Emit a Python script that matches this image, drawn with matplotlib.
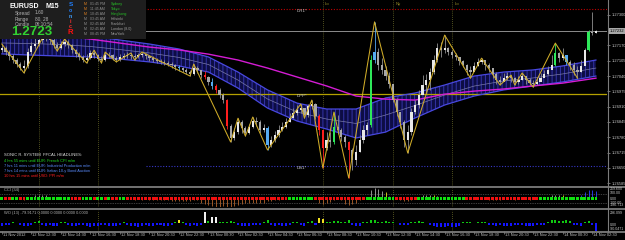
import numpy as np
import matplotlib
matplotlib.use("Agg")
import matplotlib.pyplot as plt
from matplotlib.patches import Rectangle
from matplotlib.lines import Line2D

plt.rcParams['font.family'] = ['Liberation Sans', 'DejaVu Sans']
plt.rcParams['hatch.linewidth'] = 0.7

W, H = 625, 240

# EURUSD M15, open of each bar = close of the previous bar
first_open = 1.27150
close = [1.27159, 1.27142, 1.27125, 1.27108, 1.27091, 1.27074, 1.27083, 1.27142, 1.27167, 1.27176,
         1.27193, 1.27201, 1.27210, 1.27193, 1.27172, 1.27159, 1.27176, 1.27184, 1.27172, 1.27150,
         1.27134, 1.27121, 1.27108, 1.27116, 1.27138, 1.27129, 1.27112, 1.27108, 1.27129, 1.27129,
         1.27116, 1.27108, 1.27121, 1.27125, 1.27129, 1.27125, 1.27121, 1.27129, 1.27134, 1.27125,
         1.27116, 1.27108, 1.27104, 1.27100, 1.27095, 1.27091, 1.27087, 1.27078, 1.27074, 1.27066,
         1.27057, 1.27048, 1.27074, 1.27066, 1.27044, 1.27036, 1.27015, 1.26998, 1.26980, 1.26959,
         1.26938, 1.26828, 1.26776, 1.26802, 1.26844, 1.26819, 1.26798, 1.26823, 1.26849, 1.26844,
         1.26810, 1.26819, 1.26747, 1.26768, 1.26789, 1.26810, 1.26823, 1.26844, 1.26861, 1.26883,
         1.26895, 1.26904, 1.26874, 1.26912, 1.26921, 1.26870, 1.26810, 1.26734, 1.26768, 1.26760,
         1.26823, 1.26810, 1.26781, 1.26760, 1.26726, 1.26683, 1.26717, 1.26768, 1.26810, 1.26832,
         1.27108, 1.27142, 1.27087, 1.27066, 1.27040, 1.27006, 1.26938, 1.26887, 1.26844, 1.26768,
         1.26802, 1.26887, 1.26917, 1.26959, 1.27002, 1.27023, 1.27057, 1.27108, 1.27159, 1.27150,
         1.27159, 1.27142, 1.27129, 1.27121, 1.27104, 1.27087, 1.27066, 1.27057, 1.27083, 1.27100,
         1.27108, 1.27087, 1.27074, 1.27048, 1.27023, 1.27015, 1.27031, 1.27040, 1.27031, 1.27015,
         1.27023, 1.27040, 1.27023, 1.27010, 1.27006, 1.27015, 1.27031, 1.27048, 1.27066, 1.27087,
         1.27138, 1.27116, 1.27129, 1.27100, 1.27087, 1.27066, 1.27057, 1.27083, 1.27150, 1.27227,
         1.27223, 1.27231]
high = [1.27176, 1.27167, 1.27150, 1.27134, 1.27116, 1.27100, 1.27108, 1.27159, 1.27184, 1.27201,
        1.27214, 1.27223, 1.27231, 1.27218, 1.27201, 1.27184, 1.27189, 1.27197, 1.27193, 1.27176,
        1.27155, 1.27142, 1.27129, 1.27134, 1.27150, 1.27150, 1.27134, 1.27125, 1.27142, 1.27142,
        1.27134, 1.27125, 1.27134, 1.27138, 1.27142, 1.27138, 1.27134, 1.27138, 1.27142, 1.27138,
        1.27129, 1.27125, 1.27116, 1.27112, 1.27108, 1.27104, 1.27100, 1.27091, 1.27087, 1.27078,
        1.27074, 1.27066, 1.27091, 1.27083, 1.27066, 1.27061, 1.27040, 1.27031, 1.27006, 1.26989,
        1.26968, 1.26942, 1.26836, 1.26819, 1.26861, 1.26853, 1.26828, 1.26836, 1.26866, 1.26866,
        1.26853, 1.26836, 1.26828, 1.26785, 1.26806, 1.26832, 1.26844, 1.26861, 1.26883, 1.26904,
        1.26917, 1.26921, 1.26904, 1.26921, 1.26938, 1.26925, 1.26878, 1.26810, 1.26802, 1.26802,
        1.26887, 1.26874, 1.26819, 1.26789, 1.26764, 1.26734, 1.26747, 1.26789, 1.26832, 1.26844,
        1.27129, 1.27270, 1.27159, 1.27116, 1.27083, 1.27057, 1.26998, 1.26946, 1.26874, 1.26853,
        1.26832, 1.26904, 1.26938, 1.26980, 1.27044, 1.27048, 1.27074, 1.27129, 1.27180, 1.27184,
        1.27214, 1.27163, 1.27150, 1.27138, 1.27116, 1.27108, 1.27091, 1.27083, 1.27100, 1.27116,
        1.27116, 1.27104, 1.27095, 1.27074, 1.27057, 1.27040, 1.27053, 1.27057, 1.27044, 1.27036,
        1.27040, 1.27053, 1.27040, 1.27031, 1.27023, 1.27031, 1.27053, 1.27066, 1.27083, 1.27129,
        1.27180, 1.27142, 1.27159, 1.27125, 1.27108, 1.27100, 1.27083, 1.27108, 1.27159, 1.27236,
        1.27312, 1.27236]
low = [1.27142, 1.27129, 1.27108, 1.27095, 1.27078, 1.27066, 1.27053, 1.27074, 1.27134, 1.27159,
       1.27167, 1.27180, 1.27189, 1.27176, 1.27159, 1.27146, 1.27155, 1.27167, 1.27159, 1.27138,
       1.27121, 1.27108, 1.27100, 1.27095, 1.27112, 1.27116, 1.27104, 1.27095, 1.27104, 1.27116,
       1.27108, 1.27100, 1.27104, 1.27112, 1.27116, 1.27112, 1.27108, 1.27116, 1.27121, 1.27112,
       1.27104, 1.27100, 1.27095, 1.27091, 1.27087, 1.27083, 1.27074, 1.27066, 1.27061, 1.27057,
       1.27048, 1.27040, 1.27044, 1.27053, 1.27031, 1.27027, 1.27002, 1.26985, 1.26968, 1.26946,
       1.26925, 1.26815, 1.26760, 1.26768, 1.26793, 1.26798, 1.26785, 1.26793, 1.26819, 1.26828,
       1.26798, 1.26802, 1.26726, 1.26738, 1.26760, 1.26781, 1.26806, 1.26819, 1.26844, 1.26861,
       1.26874, 1.26883, 1.26861, 1.26866, 1.26900, 1.26857, 1.26789, 1.26649, 1.26726, 1.26738,
       1.26751, 1.26793, 1.26764, 1.26738, 1.26607, 1.26640, 1.26662, 1.26717, 1.26755, 1.26789,
       1.26823, 1.27095, 1.27066, 1.27048, 1.27023, 1.26989, 1.26929, 1.26870, 1.26819, 1.26738,
       1.26713, 1.26789, 1.26878, 1.26904, 1.26963, 1.26972, 1.26980, 1.27048, 1.27100, 1.27121,
       1.27138, 1.27129, 1.27116, 1.27108, 1.27087, 1.27078, 1.27044, 1.27031, 1.27066, 1.27083,
       1.27091, 1.27066, 1.27057, 1.27031, 1.27006, 1.27002, 1.27023, 1.27023, 1.27015, 1.27002,
       1.27006, 1.27023, 1.27006, 1.27002, 1.26993, 1.27002, 1.27019, 1.27036, 1.27044, 1.27074,
       1.27083, 1.27100, 1.27108, 1.27087, 1.27066, 1.27044, 1.27031, 1.27057, 1.27100, 1.27146,
       1.27214, 1.27223]
blue_bars = [48, 57, 72, 101, 153]
red_bars = [55, 58, 61, 86, 87, 94]
green_bars = [90, 100, 150, 159]

# zigzag turning points (bar, h = high / l = low)
zz_bars = [0, 6, 12, 15, 17, 23, 25, 27, 28, 31, 35, 36, 38, 51, 52, 62, 64, 66, 68, 72, 81, 82, 84,
           87, 90, 94, 101, 110, 120, 127, 130, 135, 138, 139, 141, 144, 150, 156]
zz_kind = "hlhlhlhlhlhlhlhlhlhlhlhlhlhlhlhlhlhlhl"

# sonic R dragon band and EMA 89, read every 8 bars
band_bars = [0, 8, 16, 24, 32, 40, 48, 56, 64, 72, 80, 88, 96, 104, 112, 120, 128, 136, 144, 152, 161]
band_hi = [1.27227, 1.27227, 1.27223, 1.27210, 1.27193, 1.27176, 1.27155, 1.27121, 1.27057, 1.26981,
           1.26925, 1.26900, 1.26900, 1.26947, 1.26968, 1.27002, 1.27040, 1.27057, 1.27066, 1.27083, 1.27108]
band_lo = [1.27134, 1.27129, 1.27125, 1.27121, 1.27112, 1.27100, 1.27083, 1.27057, 1.26989, 1.26904,
           1.26849, 1.26815, 1.26777, 1.26802, 1.26862, 1.26917, 1.26955, 1.26981, 1.26998, 1.27015, 1.27040]
ema89 = [1.27244, 1.27227, 1.27210, 1.27197, 1.27180, 1.27163, 1.27151, 1.27133, 1.27108, 1.27074,
         1.27036, 1.26998, 1.26955, 1.26942, 1.26938, 1.26963, 1.26976, 1.26985, 1.26998, 1.27010, 1.27031]

bid = 1.27232
dr1, dpp, ds1 = 1.27325, 1.26963, 1.26658
price_ticks = [1.26585, 1.26650, 1.26715, 1.26780, 1.26845, 1.26910, 1.26975, 1.27040, 1.27105, 1.27170, 1.27300]

# session lines; the first two labels sit under the info box
session_bars = [10, 26, 87, 106, 122]
session_names = ["", "", "Lo", "Ny", "Lo"]

cci = [15, -10, -20, 10, 20, -15, -25, 10, 30, 70, 85, 90, 80, 40, 25, 10, 30, 35, 15, -10, -20,
       -15, 10, 20, 25, -10, 15, 20, -5, 10, -15, -20, 5, 15, -10, -20, -25, -15, -30, -20, -25,
       -30, -25, -35, -30, -40, -50, -60, -55, -60, -50, -45, -30, -40,
       -100, -130, -150, -170, -185, -180, -175, -185, -180, -160, -140,
       -110, -100, -95, -90, -95, -100, -90, -60, -50, -40, -30, -20, -10, 10,
       20, 30, 25, 15, 30, 20, -10, -90, -110, -100, -80, -30, -20, -40, -120, -140, -130, -100,
       -40, -10, 20, 200, 235, 220, 180, 150, 60, 40, -20, -40, -50, -45, -30, -10, 40, 70, 80, 75,
       85, 50, 40, 35, 30, 25, 20, 15, 10, -10, -20, -15, -5, -10, -20, -25, -30, -35, -30, -20,
       -15, -20, -25, -15, -10, -20, -25, -20, -10, 10, 20, 30, 70, 80, 85, 75, 40, 30, 20, 15,
       90, 140, 185, 190, 170]
cci_yellow = [104, 117, 152]
cci_blue = [105, 106, 157, 158, 159, 160, 161]

wo = [-60, -50, -40, 30, 20, -50, -60, -70, -40, 40, 50, -40, -60, -50, -70, -60, 30, 40, -50, -60,
      -70, -50, -40, -60, -80, -70, -60, -50, -40, -60, -70, -60, -50, 30, -40, -60, -70, -80, -60, -50,
      -60, -70, -50, -40, -60, -70, -50, 40, 100, 30, -40, -60, -50, -70, -40, 290, 60, 170, 160,
      40, 30, 40, 50, 30, -40, -60, -70, -60, -50, -40, -30, 40, 80, -40, -60, -50, -70, -60, -40,
      30, 40, -50, -60, 30, 70, -40, 140, 120, 40, 30, 50, 60, 40, 30, 80, -50, -60, -70, 30, 40,
      100, 90, 40, 30, 50, 40, 30, 20, -30, -40, -30, 30, 40, 50, 30, 20, -50, -60, -80, -90, -80,
      -70, -80, -90, -70, 30, 40, 30, 20, 30, 40, 30, -40, -50, -60, -50, -60, -70, -60, -50, -40,
      -50, -60, -70, -60, -50, -40, -30, 40, 80, 90, 60, 70, 80, 50, -40, -50, -60, 30, 60, -40, -180]
wo_white = [55, 57, 58]
wo_yellow = [48, 86, 87]

label_bars = list(range(0, 161, 8))
time_labels = ["11 Nov 2012", "12 Nov 12:30", "12 Nov 14:30", "12 Nov 16:30", "12 Nov 18:30",
               "12 Nov 20:30", "12 Nov 22:30", "13 Nov 00:30", "13 Nov 02:30", "13 Nov 04:30",
               "13 Nov 06:30", "13 Nov 08:30", "13 Nov 10:30", "13 Nov 12:30", "13 Nov 14:30",
               "13 Nov 16:30", "13 Nov 18:30", "13 Nov 20:30", "13 Nov 22:30", "14 Nov 00:30",
               "14 Nov 02:30"]

sessions = [("01:45 PM", "Sydney"), ("11:45 AM", "Tokyo"), ("10:45 AM", "Hongkong"),
            ("03:45 AM", "Helsinki"), ("02:45 AM", "Frankfurt"), ("02:45 AM", "London (8.0)"),
            ("08:45 PM", "NewYork")]
sessions_open = 3
headlines = [("4 hrs 55 mins until EUR: French CPI m/m", "#20e020"),
             ("7 hrs 11 mins until EUR: Industrial Production m/m", "#5a8cff"),
             ("7 hrs 14 mins until EUR: Italian 10-y Bond Auction", "#5a8cff"),
             ("10 hrs 15 mins until USD: PPI m/m", "#ff2020")]


def fx(x):
    return x / W


def fy(y):
    return 1 - y / H


def ft(x, y, s, **kw):
    kw.setdefault('va', 'center')
    kw.setdefault('ha', 'left')
    fig.text(fx(x), fy(y), s, zorder=12, **kw)


fig = plt.figure(figsize=(W / 100, H / 100), dpi=100, facecolor='black')
ax = fig.add_axes([0, fy(186), fx(607), 186 / H])
ax_cci = fig.add_axes([0, fy(207), fx(607), 19 / H])
ax_wo = fig.add_axes([0, fy(231), fx(607), 21 / H])
for a in (ax, ax_cci, ax_wo):
    a.set_facecolor('black')
    a.set_xlim(-0.5, 164)
    for s in a.spines.values():
        s.set_visible(False)
    a.tick_params(bottom=False, labelbottom=False, left=False, labelleft=False)
    for b in session_bars:
        a.axvline(b, color='#6a6a28', ls=(0, (1, 1.5)), lw=0.6, zorder=0)

n = len(close)
x = np.arange(n)
c = np.array(close)
o = np.array([first_open] + close[:-1])
hi = np.array(high)
lo = np.array(low)

# main chart
ax.set_ylim(1.26573, 1.27363)
ax.fill_between(band_bars, band_lo, band_hi, facecolor='#0d0d45', edgecolor='#3434a8',
                hatch='||||', linewidth=0, zorder=1)
ax.plot(band_bars, band_hi, color='#4848e0', lw=0.9, zorder=1.5)
ax.plot(band_bars, band_lo, color='#4848e0', lw=0.9, zorder=1.5)
ax.plot(band_bars, (np.array(band_hi) + np.array(band_lo)) / 2, color='#7878a8', lw=0.5, zorder=1.5)
ax.plot(band_bars, ema89, color='#d41cd4', lw=1.0, zorder=2)

ax.axhline(dr1, color='#c00000', ls=(0, (1, 1.5)), lw=0.8, zorder=1)
ax.axhline(bid, color='#8c8c8c', lw=0.7, zorder=1)
ax.axhline(dpp, color='#b4a000', lw=0.9, zorder=1)
ax.hlines(ds1, 39, 164, color='#3838c8', ls=(0, (1, 1.5)), lw=0.8, zorder=1)
for lvl, name in [(dr1, "DR1*"), (dpp, "DPP*"), (ds1, "DS1*")]:
    ax.text(80, lvl, name, color='#c8c8c8', fontsize=3.2, va='top', ha='left', zorder=5)

for b, name in zip(session_bars, session_names):
    if name:
        ax.text(b + 0.6, 1 - 4 / 186, name, transform=ax.get_xaxis_transform(),
                color='#a09428', fontsize=3.0, va='center', ha='left')

body_col = np.where(c >= o, '#e8e8e8', '#a8a8a8').astype(object)
wick_col = np.array(['#909090'] * n, dtype=object)
for idx_list, col in [(blue_bars, '#56aaf0'), (red_bars, '#ff1e1e'), (green_bars, '#2ee85a')]:
    for i in idx_list:
        body_col[i] = col
        wick_col[i] = col
ax.vlines(x, lo, hi, colors=list(wick_col), lw=0.6, zorder=3)
body = c - o
body = np.where(np.abs(body) < 0.00002, 0.00002, body)
ax.bar(x, body, bottom=o, width=0.6, color=list(body_col), linewidth=0, zorder=3.2)

zz_price = [hi[b] if k == 'h' else lo[b] for b, k in zip(zz_bars, zz_kind)]
ax.plot(zz_bars, zz_price, color='#d0ac28', lw=0.75, zorder=4)

ax.yaxis.tick_right()
ax.set_yticks(price_ticks)
ax.set_yticklabels(['%.5f' % t for t in price_ticks])
ax.tick_params(axis='y', right=True, labelright=True, length=2, width=0.5, color='#a0a0a0',
               labelcolor='#c8c8c8', labelsize=2.9, pad=1.2)
ax.text(1.004, bid, '%.5f' % bid, transform=ax.get_yaxis_transform(), ha='left', va='center',
        fontsize=2.9, color='black', clip_on=False,
        bbox=dict(boxstyle='square,pad=0.25', fc='#a8a8a8', ec='none'))

# CCI panel
ax_cci.set_ylim(-187, 236)
cci_col = np.where(np.array(cci) >= 0, '#a8a8a8', '#b4642a').astype(object)
for i in cci_yellow:
    cci_col[i] = '#e8e020'
for i in cci_blue:
    cci_col[i] = '#3040ff'
ax_cci.vlines(x, 0, cci, colors=list(cci_col), lw=0.6, zorder=2)
for lvl in (100, -100):
    ax_cci.axhline(lvl, color='#7a7a7a', ls=(0, (1, 1.5)), lw=0.5, zorder=1)
dot_col = np.where(np.array(cci) >= 0, '#10e010', '#f01010')
ax_cci.scatter(x, np.zeros(n), marker='s', s=4.2, c=list(dot_col), linewidths=0, zorder=3)
ax_cci.text(0.006, 0.88, 'CCI (34)', transform=ax_cci.transAxes, color='#b0b0b0',
            fontsize=2.9, va='center', ha='left')

# WO panel
ax_wo.set_ylim(-188, 338)
wo_col = np.where(np.array(wo) >= 0, '#10c810', '#1414ff').astype(object)
for i in wo_white:
    wo_col[i] = '#f0f0f0'
for i in wo_yellow:
    wo_col[i] = '#f0e020'
ax_wo.bar(x, wo, width=0.55, color=list(wo_col), linewidth=0)
ax_wo.text(0.006, 0.86, 'WO (13) -79.9171 0.0000 0.0000 0.0000 0.0000', transform=ax_wo.transAxes,
           color='#b0b0b0', fontsize=2.9, va='center', ha='left')
ax_wo.set_xticks(label_bars)
ax_wo.tick_params(axis='x', bottom=True, length=2, width=0.5, color='#909090', labelbottom=False)
for b, lab in zip(label_bars, time_labels):
    ax_wo.text(b + 0.3, -0.21, lab, transform=ax_wo.get_xaxis_transform(), color='#c0c0c0',
               fontsize=2.9, ha='left', va='center', clip_on=False)

# panel separators and price scale border
for yy in (186.8, 208.5, 231.6):
    fig.add_artist(Line2D([0, 1], [fy(yy)] * 2, color='#7c7c7c', lw=1.3, zorder=6))
fig.add_artist(Line2D([fx(607.5)] * 2, [fy(0), fy(232)], color='#7c7c7c', lw=0.8, zorder=6))

for yy, lab in [(189.5, '259.600'), (193.5, '100.00'), (198.5, '0.00'), (202.5, '-100.00'),
                (205.5, '-186.713')]:
    ft(610, yy, lab, color='#c8c8c8', fontsize=2.6)
for yy, lab in [(213, '296.099'), (224.5, '0.00'), (228.5, '-90.0471')]:
    ft(610, yy, lab, color='#c8c8c8', fontsize=2.6)

# info box
fig.add_artist(Rectangle((0, fy(39)), fx(146), 39 / H, transform=fig.transFigure,
                         facecolor='#1e1e1e', edgecolor='none', zorder=10))
ft(9, 6, 'EURUSD', color='white', fontsize=5, fontweight='bold')
ft(45, 6, 'M15', color='white', fontsize=5, fontweight='bold')
for yy, lab, val in [(13, 'Spread', '1.60'), (19, 'Range', '80, 28'), (25, 'Candle', '08:10:54')]:
    ft(15, yy, lab, color='#b4b4b4', fontsize=3.4)
    ft(35, yy, val, color='#b4b4b4', fontsize=3.4)
ft(11, 32, '1.2723', color='#32d232', fontsize=9.6, fontweight='bold')
for yy, ch, col, fs in [(5, 'S', '#2080ff', 4.6), (11, 'o', '#2080ff', 3.8), (16.5, 'n', '#40a0ff', 3.8),
                        (21.5, 'i', '#ff3030', 3.8), (26.5, 'c', '#ff3030', 3.8), (33, 'R', '#ff1010', 5.6)]:
    ft(70.5, yy, ch, color=col, fontsize=fs, fontweight='bold', ha='center')
for k, (tm, name) in enumerate(sessions):
    yy = 4 + 5 * k
    mark = '#e08020' if k < sessions_open else '#8c8c8c'
    ncol = '#28c828' if k < sessions_open else '#a0a0a0'
    ft(84, yy, 'M', color=mark, fontsize=2.5)
    ft(90, yy, tm, color='#909090', fontsize=2.5)
    ft(111, yy, name, color=ncol, fontsize=2.6)

# headlines
ft(4, 155, 'SONIC R. SYSTEM  FFCAL HEADLINES:', color='#e0e0e0', fontsize=3.0)
for k, (txt, col) in enumerate(headlines):
    ft(4, 161 + 5 * k, txt, color=col, fontsize=2.8)

fig.savefig('out.png', dpi=100, facecolor='black')
